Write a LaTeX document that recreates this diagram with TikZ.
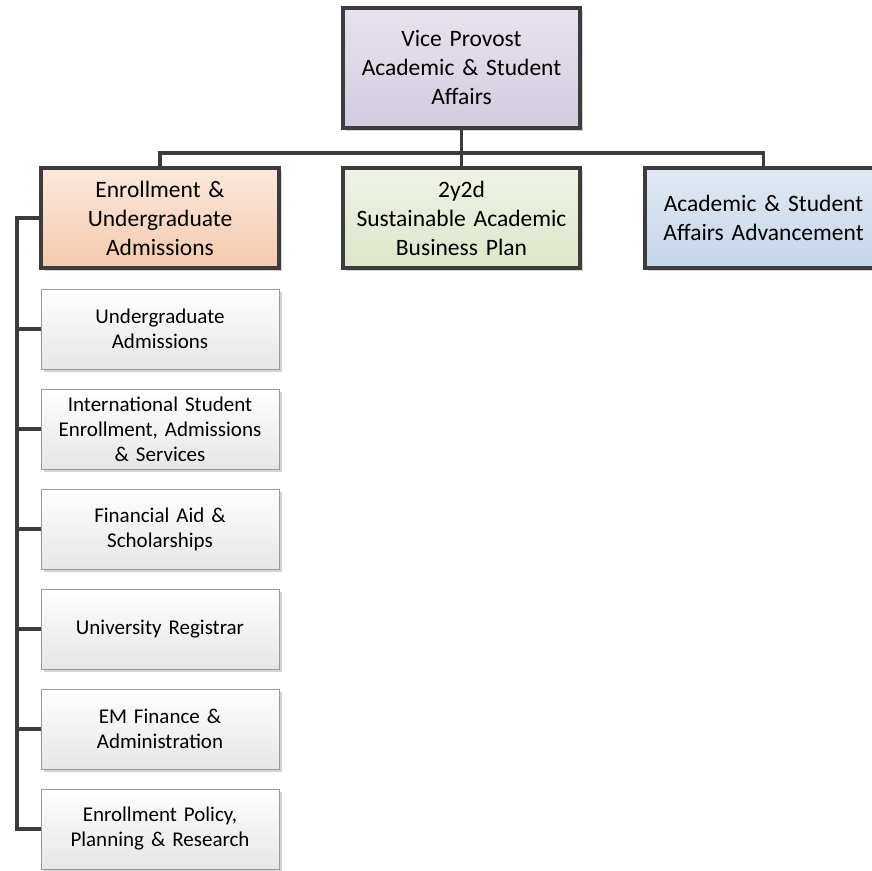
\documentclass[tikz,border=0pt]{standalone}
\usepackage{fontspec}
\setmainfont{Carlito}
\definecolor{linec}{HTML}{3C3C3C}
\definecolor{topA}{HTML}{E8E3EE}
\definecolor{topB}{HTML}{D2CBDF}
\definecolor{orA}{HTML}{FBE8DC}
\definecolor{orB}{HTML}{F5CAAE}
\definecolor{grA}{HTML}{EFF3E6}
\definecolor{grB}{HTML}{DDE6C9}
\definecolor{blA}{HTML}{E1E9F3}
\definecolor{blB}{HTML}{C5D6EA}
\definecolor{chA}{HTML}{FFFFFF}
\definecolor{chB}{HTML}{E6E6E6}
\definecolor{chBorder}{HTML}{9A9A9A}
\definecolor{shadowc}{HTML}{C8C8C8}
\usetikzlibrary{shadows}
\tikzset{
  mainbox/.style={draw=linec, line width=3.5pt, minimum width=237pt, minimum height=100pt,
    text width=232pt, align=center, inner sep=0pt,
    font=\fontsize{23.5}{29}\selectfont,
    drop shadow={shadow xshift=3pt, shadow yshift=-3pt, fill=shadowc, opacity=0.8}},
  childbox/.style={draw=chBorder, line width=1pt, minimum width=238pt, minimum height=80pt,
    text width=232pt, align=center, inner sep=0pt, top color=chA, bottom color=chB,
    font=\fontsize{21}{25}\selectfont,
    drop shadow={shadow xshift=3pt, shadow yshift=-3pt, fill=shadowc, opacity=0.8}},
  conn/.style={draw=linec, line width=3.5pt}
}
\begin{document}
\begin{tikzpicture}[x=1pt,y=-1pt]
\useasboundingbox (0,0) rectangle (872,870);
\clip (0,0) rectangle (872,870);
% nodes
\node[mainbox, minimum height=120pt, top color=topA, bottom color=topB] (vp) at (461.5,68)
  {Vice Provost\\Academic \& Student\\Affairs};
\node[mainbox, minimum width=238pt, top color=orA, bottom color=orB] (eua) at (160,218)
  {Enrollment \&\\Undergraduate\\Admissions};
\node[mainbox, top color=grA, bottom color=grB] (sab) at (461.5,218)
  {2y2d\\Sustainable Academic\\Business Plan};
\node[mainbox, top color=blA, bottom color=blB] (asa) at (763.5,218)
  {Academic \& Student\\Affairs Advancement};
\node[childbox] (c1) at (160,329) {Undergraduate\\Admissions};
\node[childbox] (c2) at (160,429) {International Student\\Enrollment, Admissions\\\& Services};
\node[childbox] (c3) at (160,529) {Financial Aid \&\\Scholarships};
\node[childbox] (c4) at (160,629) {University Registrar};
\node[childbox] (c5) at (160,729) {EM Finance \&\\Administration};
\node[childbox] (c6) at (160,829) {Enrollment Policy,\\Planning \& Research};
% connectors
\coordinate (bar) at (461.5,153);
\draw[conn] (vp.south) -- (bar);
\draw[conn] (eua.north) |- (bar) -| (asa.north);
\draw[conn] (bar) -- (sab.north);
\coordinate (spTop) at (17,218);
\draw[conn] (eua.west) -- (spTop) |- (c6.west);
\foreach \c in {c1,c2,c3,c4,c5} {
  \draw[conn] (\c.west) -- (17,0 |- \c.west);
}
\end{tikzpicture}
\end{document}
